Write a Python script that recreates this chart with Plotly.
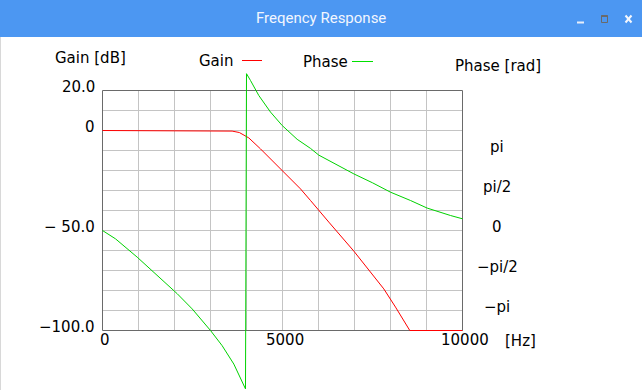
import plotly.graph_objects as go

W, H = 642, 390

# ---------------- data ----------------
gain_freq = [0, 3400, 3600, 3800, 3972, 4064, 4389, 4667, 4991, 5222, 5500, 5778,
             6008, 6286, 6981, 7444, 7814, 8139, 8536, 10000]
gain_db = [0.0, 0.0, -0.3, -1.0, -2.5, -3.7, -9.2, -14.2, -20.0, -24.2, -29.2, -35.0,
           -40.0, -45.8, -60.3, -70.8, -79.2, -88.3, -100.0, -100.0]

phase_freq = [0, 361, 963, 1519, 2075, 2491, 3000, 3324, 3648, 3972,
              4000, 4111, 4342, 4667, 4991, 5407, 5778, 6008, 6500, 6981, 7500, 8000,
              8556, 9019, 9667, 10000]
phase_rad = [0.0, -0.327, -1.046, -1.767, -2.482, -3.079, -3.927, -4.524, -5.246, -6.220,
             6.158, 5.890, 5.301, 4.650, 4.123, 3.581, 3.224, 2.960, 2.572, 2.224, 1.873, 1.505,
             1.178, 0.880, 0.589, 0.459]

x_ticks = [0, 5000, 10000]
x_tick_labels = ["0", "5000", "10000"]
gain_ticks = [20, 0, -50, -100]
gain_tick_labels = ["20.0", "0", "\u2212 50.0", "\u2212100.0"]
phase_ticks = [3.14159, 1.5708, 0.0, -1.5708, -3.14159]
phase_tick_labels = ["pi", "pi/2", "0", "\u2212pi/2", "\u2212pi"]

x_grid = list(range(1000, 10000, 1000))
y_grid = list(range(-90, 20, 10))

X_MIN, X_MAX = 0, 10000
Y_MIN, Y_MAX = -100, 20

# ---------------- geometry (pixel mapping) ----------------
PX_PER_HZ = 360 / 10000
x_range = [-102.5 / PX_PER_HZ, (W - 102.5) / PX_PER_HZ]
y_range = [(130.5 - H) / 2, 130.5 / 2]
PI = 3.141592653589793
PX_PER_RAD = 80 / PI
y2_range = [-(H - 230.5) / PX_PER_RAD, 230.5 / PX_PER_RAD]

FONT = "DejaVu Sans"
RED = "#ff0000"
GREEN = "#00d200"


def px(x):
    return x / W


def py(y):
    return 1 - y / H


fig = go.Figure()
fig.add_trace(go.Scatter(x=gain_freq, y=gain_db, mode="lines", name="Gain",
                         line=dict(color=RED, width=1), yaxis="y", hoverinfo="skip"))
fig.add_trace(go.Scatter(x=phase_freq, y=phase_rad, mode="lines", name="Phase",
                         line=dict(color=GREEN, width=1), yaxis="y2", hoverinfo="skip"))

shapes = []
shapes.append(dict(type="rect", xref="paper", yref="paper", x0=0, x1=1, y0=py(37), y1=1,
                   fillcolor="#4c97f2", line=dict(width=0), layer="below"))
shapes.append(dict(type="line", xref="paper", yref="paper", x0=px(0.5), x1=px(0.5),
                   y0=0, y1=py(37), line=dict(color="#d8d8d8", width=1), layer="below"))
shapes.append(dict(type="line", xref="paper", yref="paper", x0=px(577), x1=px(584),
                   y0=py(22.5), y1=py(22.5), line=dict(color="#e8eefa", width=2)))
shapes.append(dict(type="rect", xref="paper", yref="paper", x0=px(601.5), x1=px(607.5),
                   y0=py(22.5), y1=py(15.5), line=dict(color="#6a6a6a", width=1)))
shapes.append(dict(type="line", xref="paper", yref="paper", x0=px(601.5), x1=px(607.5),
                   y0=py(16), y1=py(16), line=dict(color="#6a6a6a", width=2)))
shapes.append(dict(type="line", xref="paper", yref="paper", x0=px(625.5), x1=px(631.5),
                   y0=py(15.5), y1=py(22.5), line=dict(color="#f4f7fd", width=2)))
shapes.append(dict(type="line", xref="paper", yref="paper", x0=px(625.5), x1=px(631.5),
                   y0=py(22.5), y1=py(15.5), line=dict(color="#f4f7fd", width=2)))

for gx in x_grid:
    shapes.append(dict(type="line", xref="x", yref="y", x0=gx, x1=gx, y0=Y_MIN, y1=Y_MAX,
                       line=dict(color="#c4c4c4", width=1), layer="below"))
for gy in y_grid:
    shapes.append(dict(type="line", xref="x", yref="y", x0=X_MIN, x1=X_MAX, y0=gy, y1=gy,
                       line=dict(color="#c4c4c4", width=1), layer="below"))
shapes.append(dict(type="rect", xref="x", yref="y", x0=X_MIN, x1=X_MAX, y0=Y_MIN, y1=Y_MAX,
                   line=dict(color="#6a6a6a", width=1), layer="below"))
shapes.append(dict(type="line", xref="paper", yref="paper", x0=px(242), x1=px(262),
                   y0=py(60.5), y1=py(60.5), line=dict(color=RED, width=1)))
shapes.append(dict(type="line", xref="paper", yref="paper", x0=px(352), x1=px(373),
                   y0=py(61.5), y1=py(61.5), line=dict(color="#00e000", width=1)))

anns = []


def txt(text, x, y, xanchor="center", size=15, color="black", family=FONT):
    anns.append(dict(text=text, x=px(x), y=py(y), xref="paper", yref="paper",
                     xanchor=xanchor, yanchor="middle", showarrow=False,
                     font=dict(family=family, size=size, color=color)))


txt("Freqency Response", 321, 18, size=15, color="#f2f6fe", family="Roboto")
txt("Gain [dB]", 53, 58, xanchor="left")
txt("Gain", 236, 60.5, xanchor="right")
txt("Phase", 350, 61.5, xanchor="right")
txt("Phase [rad]", 453, 66, xanchor="left")
txt("[Hz]", 503, 341, xanchor="left")

for v, lab in zip(x_ticks, x_tick_labels):
    anns.append(dict(text=lab, x=v, y=py(340), xref="x", yref="paper", xanchor="center",
                     yanchor="middle", xshift=2, showarrow=False,
                     font=dict(family=FONT, size=15, color="black")))
for v, lab in zip(gain_ticks, gain_tick_labels):
    anns.append(dict(text=lab, x=px(97), y=v, xref="paper", yref="y", xanchor="right",
                     yanchor="middle", yshift=3.5, showarrow=False,
                     font=dict(family=FONT, size=15, color="black")))
for v, lab in zip(phase_ticks, phase_tick_labels):
    anns.append(dict(text=lab, x=px(497), y=v, xref="paper", yref="y2", xanchor="center",
                     yanchor="middle", yshift=3.5, showarrow=False,
                     font=dict(family=FONT, size=15, color="black")))

fig.update_layout(
    width=W, height=H, autosize=False,
    margin=dict(l=0, r=0, t=0, b=0, pad=0),
    paper_bgcolor="white", plot_bgcolor="white",
    showlegend=False,
    xaxis=dict(range=x_range, visible=False, domain=[0, 1], fixedrange=True),
    yaxis=dict(range=y_range, visible=False, domain=[0, 1], fixedrange=True),
    yaxis2=dict(range=y2_range, visible=False, overlaying="y", side="right", fixedrange=True),
    shapes=shapes,
    annotations=anns,
)

fig.write_html("out.html", config={"displayModeBar": False, "staticPlot": True},
               post_script="document.body.style.margin='0';document.body.style.padding='0';"
                           "document.body.style.overflow='hidden';")
